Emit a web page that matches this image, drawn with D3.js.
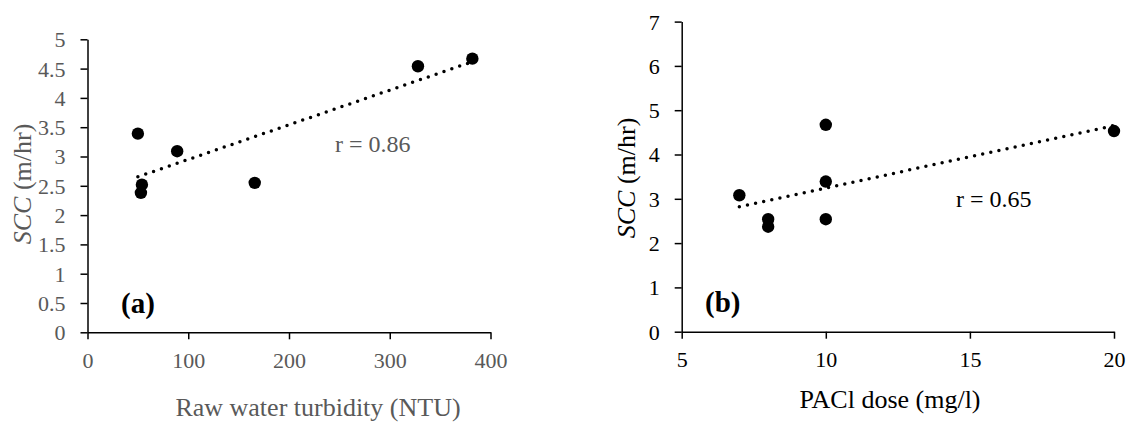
<!DOCTYPE html>
<html>
<head>
<meta charset="utf-8">
<script src="https://cdn.jsdelivr.net/npm/d3@7"></script>
<style>
  html, body { margin: 0; padding: 0; background: #fff; }
  svg { display: block; font-family: "Liberation Serif", "Times New Roman", serif; }
</style>
</head>
<body>
<svg id="chart" width="1132" height="428"></svg>
<script>
// (a) turbidity vs SCC
const turbidity = [50, 89, 54, 53, 166, 328, 382];
const sccA = [3.39, 3.09, 2.52, 2.38, 2.55, 4.54, 4.67];
const ticksA_x = [0, 100, 200, 300, 400];
const ticksA_y = [0, 0.5, 1, 1.5, 2, 2.5, 3, 3.5, 4, 4.5, 5];

// (b) PACl dose vs SCC
const paclDose = [7, 8, 8, 10, 10, 10, 20];
const sccB = [3.08, 2.54, 2.37, 4.67, 3.39, 2.54, 4.53];
const ticksB_x = [5, 10, 15, 20];
const ticksB_y = [0, 1, 2, 3, 4, 5, 6, 7];

const GREY = '#595959';
const svg = d3.select('#chart');

// least squares line, like the spreadsheet's linear trendline
function fitLine(xs, ys) {
  const mx = d3.mean(xs), my = d3.mean(ys);
  let sxy = 0, sxx = 0;
  xs.forEach((x, i) => { sxy += (x - mx) * (ys[i] - my); sxx += (x - mx) * (x - mx); });
  const b = sxy / sxx;
  const a = my - b * mx;
  const [x0, x1] = d3.extent(xs);
  return [[x0, a + b * x0], [x1, a + b * x1]];
}

function panel(opts) {
  const x = d3.scaleLinear().domain(opts.xDomain).range(opts.xRange);
  const y = d3.scaleLinear().domain(opts.yDomain).range(opts.yRange);
  const g = svg.append('g');

  const xAxis = g.append('g')
    .attr('transform', `translate(0,${opts.yRange[0]})`)
    .call(d3.axisBottom(x).tickValues(opts.xTicks).tickSize(7).tickSizeOuter(0).tickPadding(13));
  const yAxis = g.append('g')
    .attr('transform', `translate(${opts.xRange[0]},0)`)
    .call(d3.axisLeft(y).tickValues(opts.yTicks).tickSize(7).tickSizeOuter(0).tickPadding(15)
      .tickFormat(d3.format('')));

  [xAxis, yAxis].forEach((ax) => {
    ax.attr('font-family', null).attr('font-size', null);
    ax.selectAll('path, line').attr('stroke', '#000').attr('stroke-width', 1.5);
    ax.selectAll('text').attr('fill', opts.labelColor).style('font-size', '22px');
  });
  yAxis.selectAll('text').attr('dy', '0.34em');

  const trend = fitLine(opts.xs, opts.ys);
  g.append('path')
    .attr('d', d3.line().x((d) => x(d[0])).y((d) => y(d[1]))(trend))
    .attr('fill', 'none')
    .attr('stroke', '#000')
    .attr('stroke-width', 3.5)
    .attr('stroke-linecap', 'round')
    .attr('stroke-dasharray', '0 8.3');

  g.append('g').selectAll('circle')
    .data(opts.xs.map((v, i) => [v, opts.ys[i]]))
    .join('circle')
    .attr('cx', (d) => x(d[0]))
    .attr('cy', (d) => y(d[1]))
    .attr('r', 6.2)
    .attr('fill', '#000');

  // axis titles
  g.append('text')
    .attr('x', opts.xTitlePos[0]).attr('y', opts.xTitlePos[1])
    .attr('text-anchor', 'middle')
    .attr('fill', opts.labelColor)
    .style('font-size', '26px')
    .text(opts.xTitle);

  const yt = g.append('text')
    .attr('transform', `translate(${opts.yTitlePos[0]},${opts.yTitlePos[1]}) rotate(-90)`)
    .attr('text-anchor', 'middle')
    .attr('fill', opts.labelColor)
    .style('font-size', '26px');
  yt.append('tspan').attr('font-style', 'italic').text('SCC');
  yt.append('tspan').text(' (m/hr)');

  g.append('text')
    .attr('x', opts.rPos[0]).attr('y', opts.rPos[1])
    .attr('fill', opts.labelColor)
    .style('font-size', '24px')
    .text(opts.rText);

  g.append('text')
    .attr('x', opts.tagPos[0]).attr('y', opts.tagPos[1])
    .attr('fill', '#000')
    .attr('font-weight', 'bold')
    .style('font-size', '29px')
    .text(opts.tag);
}

panel({
  xs: turbidity, ys: sccA,
  xDomain: [0, 400], xRange: [87.5, 490.5],
  yDomain: [0, 5], yRange: [332.3, 39.3],
  xTicks: ticksA_x, yTicks: ticksA_y,
  labelColor: GREY,
  xTitle: 'Raw water turbidity (NTU)', xTitlePos: [318, 416],
  yTitlePos: [31, 184],
  rText: 'r = 0.86', rPos: [335, 152],
  tag: '(a)', tagPos: [121, 313]
});

panel({
  xs: paclDose, ys: sccB,
  xDomain: [5, 20], xRange: [681.7, 1114],
  yDomain: [0, 7], yRange: [331.7, 21.6],
  xTicks: ticksB_x, yTicks: ticksB_y,
  labelColor: '#000',
  xTitle: 'PACl dose (mg/l)', xTitlePos: [890, 408],
  yTitlePos: [635, 178],
  rText: 'r = 0.65', rPos: [956, 207],
  tag: '(b)', tagPos: [705, 312]
});
</script>
</body>
</html>
